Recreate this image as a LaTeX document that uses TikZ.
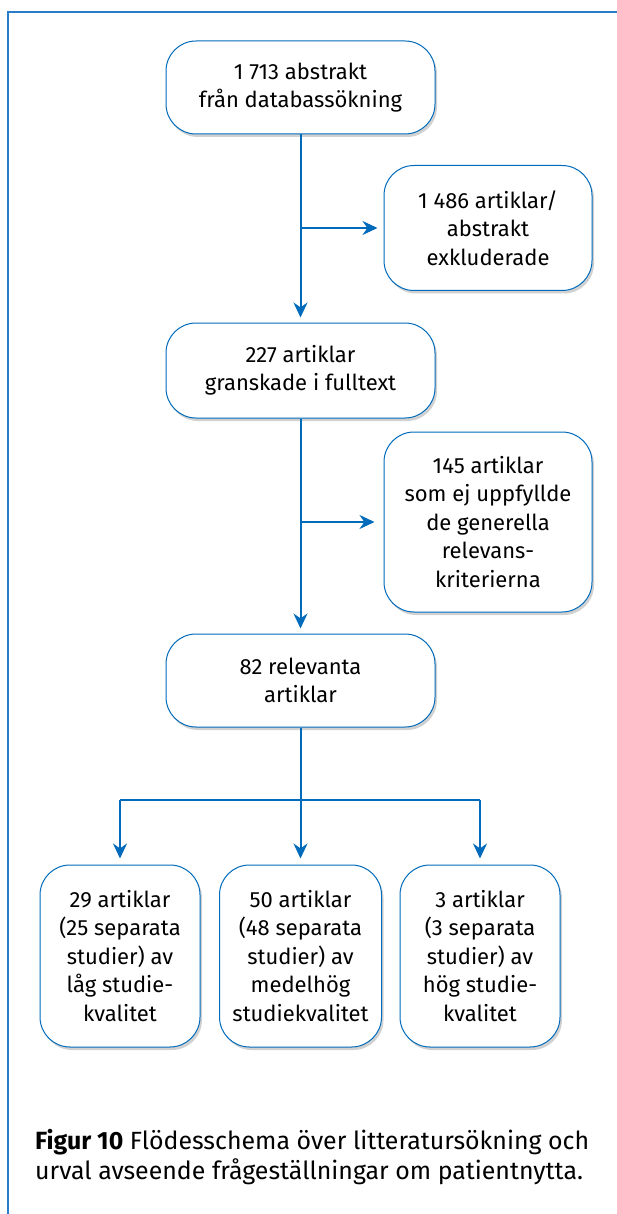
\documentclass[tikz,border=0pt]{standalone}
\usepackage{fontspec}
\setmainfont{Fira Sans}
\usetikzlibrary{arrows.meta,shadows}
\definecolor{fblue}{RGB}{0,107,187}
\definecolor{frame}{RGB}{40,125,200}
\tikzset{
  box/.style={draw=fblue, line width=1pt, fill=white, rounded corners=30pt,
    align=center, font=\fontsize{22}{28.5}\selectfont,
    drop shadow={shadow xshift=2pt, shadow yshift=-3pt, opacity=0.18, fill=black}},
  conn/.style={draw=fblue, line width=2pt},
  arr/.style={conn, -{Stealth[length=15pt,width=14pt]}, shorten >=5pt},
}
\begin{document}
\begin{tikzpicture}[x=1pt,y=-1pt]
\useasboundingbox (0,0) rectangle (617,1214);
\draw[frame, line width=1.3pt] (8,1214) -- (8,12) -- (617,12);

\node[box, minimum width=269pt, minimum height=93pt] (b1) at (300.5,87.5) {1 713 abstrakt\\från databassökning};
\node[box, minimum width=208pt, minimum height=125pt] (sa) at (488,228) {1 486 artiklar/\\abstrakt\\exkluderade};
\node[box, minimum width=269pt, minimum height=95pt] (b2) at (300.5,370.5) {227 artiklar\\granskade i fulltext};
\node[box, minimum width=208pt, minimum height=180pt] (sb) at (488,522) {145 artiklar\\som ej uppfyllde\\de generella\\relevans-\\kriterierna};
\node[box, minimum width=269pt, minimum height=93pt] (b3) at (300.5,680.5) {82 relevanta\\artiklar};
\node[box, minimum width=160pt, minimum height=182pt] (bl) at (120,956) {29 artiklar\\(25 separata\\studier) av\\låg studie-\\kvalitet};
\node[box, minimum width=162pt, minimum height=182pt] (bm) at (300.5,956) {50 artiklar\\(48 separata\\studier) av\\medelhög\\studiekvalitet};
\node[box, minimum width=160pt, minimum height=182pt] (br) at (480,956) {3 artiklar\\(3 separata\\studier) av\\hög studie-\\kvalitet};

\draw[arr] (b1.south) -- (b2.north);
\draw[arr, shorten >=6pt] (sa.west -| b1.south) -- (sa.west);
\draw[arr] (b2.south) -- (b3.north);
\draw[arr, shorten >=9pt] (sb.west -| b2.south) -- (sb.west);

\coordinate (split) at (300.5,800);
\draw[conn] (b3.south) -- (split);
\draw[conn] (bl.north |- split) -- (br.north |- split);
\draw[arr, shorten >=6pt] (bl.north |- split) -- (bl.north);
\draw[arr, shorten >=6pt] (split) -- (bm.north);
\draw[arr, shorten >=6pt] (br.north |- split) -- (br.north);

\node[anchor=base west, align=left, inner sep=0pt, font=\fontsize{24.9}{30}\selectfont] (cap) at (35,1179)
  {\textbf{Figur 10} Flödesschema över litteratursökning och\\urval avseende frågeställningar om patientnytta.};
\end{tikzpicture}
\end{document}
